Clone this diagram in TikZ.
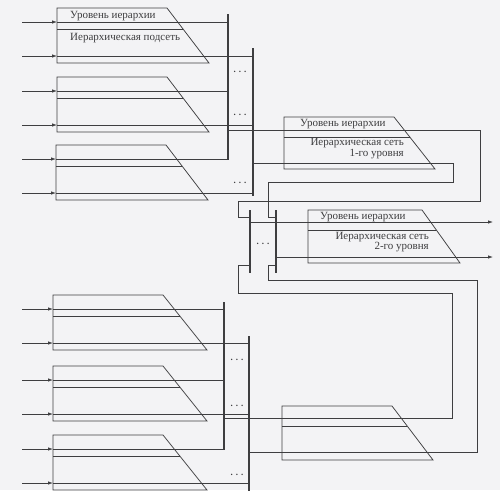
\documentclass[tikz,border=0pt]{standalone}
\usepackage{fontspec}
\setmainfont{Liberation Serif}
\usetikzlibrary{arrows.meta, calc}
\definecolor{paper}{RGB}{243,243,245}
\definecolor{ink}{RGB}{62,62,64}

\begin{document}
\begin{tikzpicture}[x=1pt, y=-1pt,
		font=\fontsize{11}{10.5}\selectfont,
		% Line styles
		wire/.style={draw=ink, line width=0.75pt},
		bus/.style={draw=ink, line width=1.8pt},
		feed/.style={wire, -{Latex[length=5pt, width=3.5pt]}},
		% Block styles
		netblock/.style={draw=ink, line width=0.75pt},
		dots/.style={font=\fontsize{9}{9}\selectfont\bfseries, text=ink, inner sep=0pt},
		lbl/.style={text=ink, inner sep=0pt}
		]
		
		\useasboundingbox (0,0) rectangle (500,490);
		\fill[paper] (0,0) rectangle (500,490);
		\clip (0,0) rectangle (500,490);
		
		% --- LEFT COLUMN: SUBNETS ---
		\foreach \top/\xl/\xtr/\xbr/\busA/\busB/\name in {
			8/57/167/209/228/253/sa, 77/57/167/209/228/253/sb, 145/56/166/208/228/253/sc,
			295/53/163/207/224/249/sd, 366/53/163/207/224/249/se, 435/53/163/207/224/249/sf}{
			\draw[netblock] (\xl,\top) coordinate (\name) -- (\xtr,\top) -- (\xbr,\top+55) -- (\xl,\top+55) -- cycle;
			\draw[netblock] (\xl,\top+21) -- ({\xtr+(\xbr-\xtr)*21/55},\top+21);
			\draw[wire] (\xl,\top+14) -- (\busA,\top+14);
			\draw[feed] (22,\top+14) -- (\xl,\top+14);
			\draw[wire] (\xl,\top+48) -- (\busB,\top+48);
			\draw[feed] (22,\top+48) -- (\xl,\top+48);
		}
		\node[lbl, anchor=west] (sa lvl) at ($(sa)+(13,8)$) {Уровень иерархии};
		\node[lbl, anchor=west] (sa sub) at ($(sa)+(13,30)$) {Иерархическая подсеть};
		
		% Buses of the upper and lower groups
		\coordinate (busA top) at (228,14);  \coordinate (busA bot) at (228,160);
		\coordinate (busB top) at (253,48);  \coordinate (busB bot) at (253,196);
		\coordinate (busC top) at (224,302); \coordinate (busC bot) at (224,450);
		\coordinate (busD top) at (249,336); \coordinate (busD bot) at (249,492);
		\foreach \b in {A,B,C,D}
			\draw[bus] (bus\b\space top) -- (bus\b\space bot);
		\foreach \y in {72,115,183}
			\node[dots] at (240,\y) {. . .};
		\foreach \y in {360,406,475}
			\node[dots] at (237,\y) {. . .};
		
		% --- LEVEL 1 NETWORKS ---
		\draw[netblock] (284,117) coordinate (net1) -- (394,117) -- (435,169) -- (284,169) -- cycle;
		\draw[netblock] (284,137) -- (410,137);
		\node[lbl, anchor=west] (net1 lvl) at ($(net1)+(16,7)$) {Уровень иерархии};
		\node[lbl, anchor=east, align=right] (net1 sub) at (404,148.5) {Иерархическая сеть\\1-го уровня};
		
		\draw[netblock] (282,406) coordinate (net1b) -- (392,406) -- (433,460) -- (282,460) -- cycle;
		\draw[netblock] (282,426) -- (407,426);
		
		% --- LEVEL 2 NETWORK ---
		\coordinate (busE top) at (250,210); \coordinate (busE bot) at (250,273);
		\coordinate (busF top) at (276,210); \coordinate (busF bot) at (276,273);
		\draw[bus] (busE top) -- (busE bot);
		\draw[bus] (busF top) -- (busF bot);
		\node[dots] at (263,244) {. . .};
		
		\draw[netblock] (308,210) coordinate (net2) -- (422,210) -- (460,263) -- (308,263) -- cycle;
		\draw[netblock] (308,230) -- (436,230);
		\node[lbl, anchor=west] (net2 lvl) at ($(net2)+(12,7)$) {Уровень иерархии};
		\node[lbl, anchor=east, align=right] (net2 sub) at (429,242) {Иерархическая сеть\\2-го уровня};
		
		\coordinate (out lvl) at (493,222);
		\coordinate (out sub) at (493,257);
		\draw[feed] (busE top |- out lvl) -- (out lvl);
		\draw[feed] (busF top |- out sub) -- (out sub);
		
		% Loops from level 1 to level 2
		\draw[wire] (busA top |- 0,130) -- (480,130) -- (480,201) -- (238,201) -- (238,217) -- (busE top |- 0,217);
		\draw[wire] (busB top |- 0,163) -- (453,163) -- (453,182) -- (268,182) -- (268,217) -- (busF top |- 0,217);
		\draw[wire] (busC top |- 0,418) -- (452,418) -- (452,293) -- (238,293) -- (238,265) -- (busE top |- 0,265);
		\draw[wire] (busD top |- 0,452) -- (477,452) -- (477,280) -- (268,280) -- (268,265) -- (busF top |- 0,265);
		
	\end{tikzpicture}
\end{document}
